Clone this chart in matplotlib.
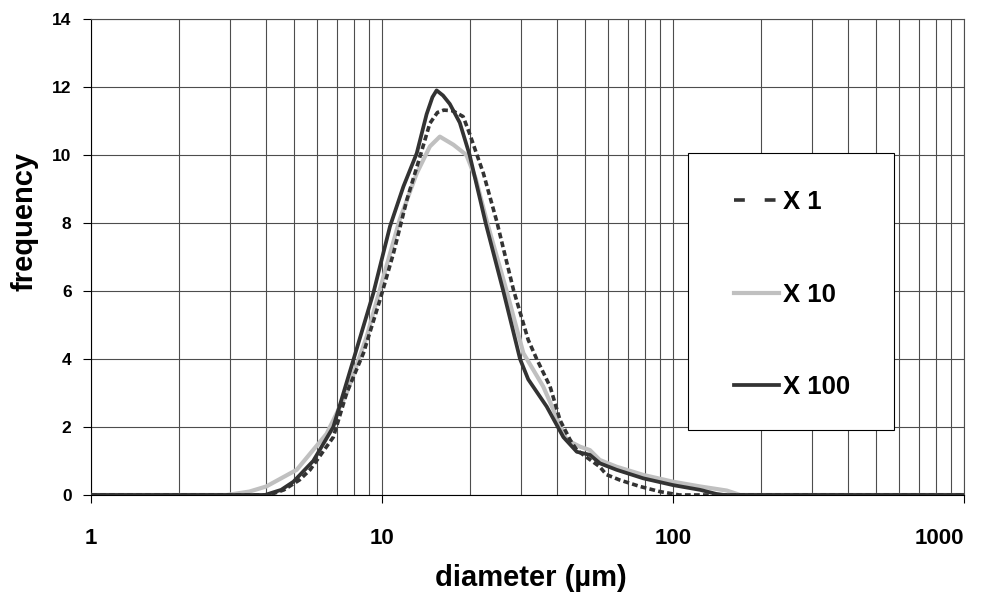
import matplotlib
matplotlib.use("Agg")
import matplotlib.pyplot as plt
from matplotlib.lines import Line2D
from matplotlib.patches import Rectangle
from matplotlib.ticker import LogLocator, FixedLocator, NullFormatter

plt.rcParams['font.family'] = ['Liberation Sans', 'DejaVu Sans']
plt.rcParams['font.weight'] = 'bold'

# Particle size distributions
x1_d = [1, 4.1, 4.6, 5.2, 5.66, 6.8, 7.56, 8.63, 9.84, 10.94, 12.17, 13.5, 14.6, 15.5, 16.3,
        17.5, 19.0, 20.05, 21.2, 22.3, 24.8, 28.3, 31.8, 34.0, 37.8, 40.9, 44.3, 46.7,
        56, 59, 65.6, 77, 90, 105, 1000]
x1_f = [0, 0, 0.15, 0.44, 0.74, 1.7, 3.0, 4.17, 5.74, 7.1, 8.68, 9.95, 10.93, 11.25, 11.32,
        11.3, 11.13, 10.6, 10.0, 9.46, 8.04, 6.03, 4.56, 4.0, 3.19, 2.2, 1.62, 1.32,
        0.83, 0.6, 0.44, 0.25, 0.1, 0, 0]

x10_d = [1, 2.93, 3.5, 4.0, 5.09, 6.45, 7.56, 8.86, 10.1, 11.5, 13.16, 14.6, 15.8, 17.6,
         19.5, 21.0, 23.0, 26.8, 30.6, 35.8, 43.1, 47.9, 51.8, 56, 64, 79, 100, 124, 153,
         170, 1000]
x10_f = [0, 0, 0.1, 0.25, 0.74, 1.8, 3.0, 4.66, 6.4, 8.1, 9.46, 10.25, 10.54, 10.3,
         10.0, 9.3, 8.0, 6.0, 4.17, 3.19, 1.62, 1.42, 1.32, 1.03, 0.83, 0.59, 0.39, 0.25, 0.13,
         0, 0]

x100_d = [1, 3.96, 4.5, 4.96, 5.8, 6.8, 7.97, 9.33, 10.65, 11.84, 13.16, 14.23, 14.9, 15.4,
          16.2, 17.1, 18.5, 20.0, 22.7, 26.1, 29.8, 31.8, 36.8, 42, 46.7, 51.8, 56.1, 64, 79,
          100, 124, 141, 150, 1000]
x100_f = [0, 0, 0.15, 0.39, 1.0, 2.0, 3.97, 5.93, 7.9, 9.07, 10.05, 11.2, 11.7, 11.9,
          11.75, 11.5, 10.95, 10.0, 8.0, 6.0, 4.0, 3.4, 2.6, 1.7, 1.27, 1.18, 0.93, 0.74,
          0.49, 0.29, 0.15, 0.03, 0, 0]

labels = ["X 1", "X 10", "X 100"]

fig = plt.figure(figsize=(9.96, 5.97), dpi=100)
ax = fig.add_axes([0.0914, 0.1709, 0.8765, 0.7973])

dark = "#333333"
gray = "#c0c0c0"

ax.plot(x10_d, x10_f, color=gray, lw=3.0, zorder=3, solid_joinstyle="round")
ax.plot(x1_d, x1_f, color=dark, lw=2.6, dashes=(1.6, 0.9), zorder=4)
ax.plot(x100_d, x100_f, color=dark, lw=2.7, zorder=5, solid_joinstyle="round")

ax.set_xscale("log")
ax.set_xlim(1, 1000)
ax.set_ylim(0, 14)
ax.set_yticks(range(0, 15, 2))
ax.xaxis.set_major_locator(FixedLocator([1, 10, 100, 1000]))
ax.xaxis.set_minor_locator(LogLocator(base=10, subs=range(2, 10)))
ax.xaxis.set_minor_formatter(NullFormatter())
ax.set_xticklabels(["1", "10", "100", "1000"])
ax.get_xticklabels()[-1].set_horizontalalignment("right")

ax.grid(True, which="major", color="#4d4d4d", lw=0.8)
ax.grid(True, which="minor", axis="x", color="#4d4d4d", lw=0.8)
ax.set_axisbelow(True)

for s in ax.spines.values():
    s.set_color("#4d4d4d")
    s.set_linewidth(0.8)
ax.spines["left"].set_color("black")
ax.spines["bottom"].set_color("black")

ax.tick_params(axis="y", direction="out", length=6, width=0.8, pad=8, labelsize=12.5)
ax.tick_params(axis="x", which="major", direction="out", length=6, width=0.8, pad=18,
               labelsize=16)
ax.tick_params(axis="x", which="minor", length=0)
for t in ax.get_xticklabels() + ax.get_yticklabels():
    t.set_fontweight("bold")

ax.set_xlabel("diameter (µm)", fontsize=21, fontweight="bold")
ax.set_ylabel("frequency", fontsize=21, fontweight="bold")
ax.xaxis.set_label_coords(0.504, -0.145)
ax.yaxis.set_label_coords(-0.060, 0.574)

# Legend: white box with black border, entries spread out
box = Rectangle((0.684, 0.1366), 0.236, 0.582, transform=ax.transAxes,
                facecolor="white", edgecolor="black", lw=0.8, zorder=6)
ax.add_patch(box)
handles = [
    Line2D([0], [0], color=dark, lw=2.6, dashes=(3, 5.5)),
    Line2D([0], [0], color=gray, lw=3.0),
    Line2D([0], [0], color=dark, lw=2.7),
]
leg = ax.legend(handles, labels, loc="center", bbox_to_anchor=(0.803, 0.421),
                frameon=False, handlelength=1.75, handletextpad=0.15,
                labelspacing=2.65, prop={"weight": "bold", "size": 18.5})
leg.set_zorder(7)

fig.savefig("out.png", dpi=100)
